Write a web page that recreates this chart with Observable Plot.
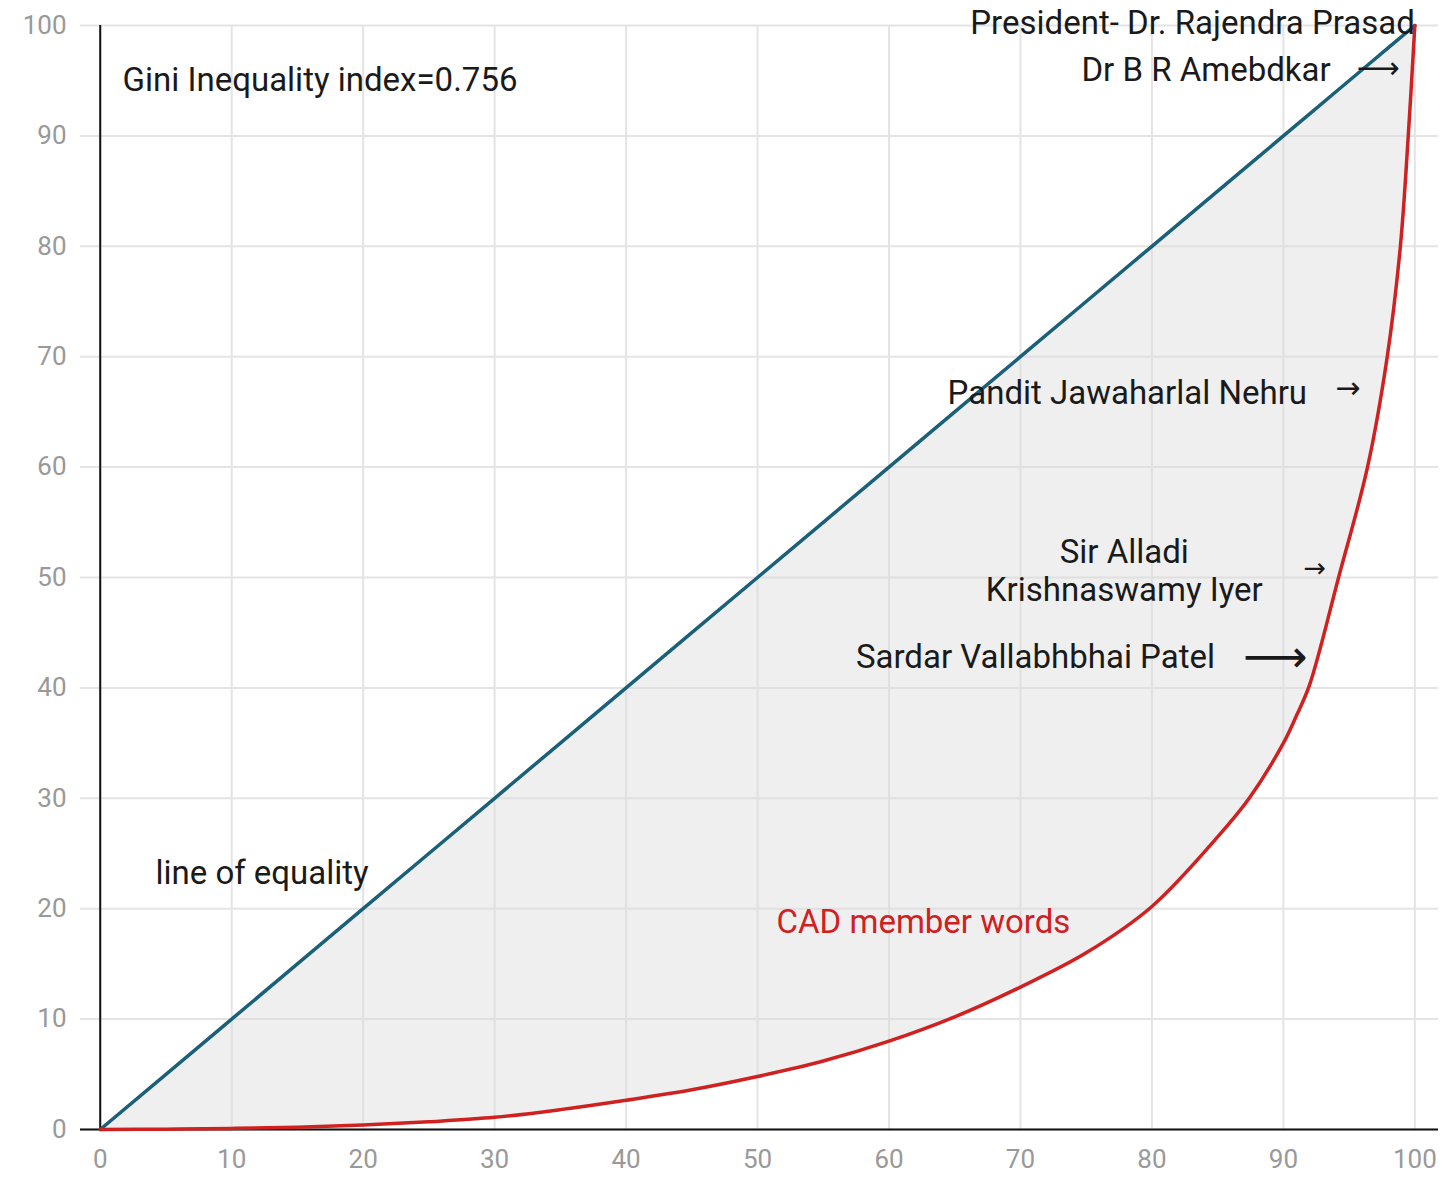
<!DOCTYPE html>
<html>
<head>
<meta charset="utf-8">
<script src="https://cdn.jsdelivr.net/npm/d3@7"></script>
<script src="https://cdn.jsdelivr.net/npm/@observablehq/plot@0.6"></script>
<style>
  html, body { margin: 0; padding: 0; background: #fff; }
  #chart svg { display: block; }
</style>
</head>
<body>
<div id="chart"></div>
<script>
// Lorenz curve of CAD member words
const pop   = [0, 5, 10, 15, 20, 25, 30, 35, 40, 45, 50, 55, 60, 65, 70, 75, 80, 85, 87.4, 90, 91, 92.0, 94.2, 96.4, 97.9, 98.9, 99.5, 100];
const share = [0, 0.03, 0.1, 0.2, 0.4, 0.7, 1.1, 1.8, 2.65, 3.6, 4.8, 6.2, 8.0, 10.2, 12.9, 16.0, 20.2, 26.5, 30, 35, 37.5, 40.3, 50, 60, 70, 80, 90, 100];

const xTicks = [0, 10, 20, 30, 40, 50, 60, 70, 80, 90, 100];
const yTicks = [0, 10, 20, 30, 40, 50, 60, 70, 80, 90, 100];

// annotations
const startLabels = ["Gini Inequality index=0.756", "line of equality"];
const startX = [1.7, 4.2];
const startY = [95.0, 23.2];

const endLabels = ["President- Dr. Rajendra Prasad", "Dr B R Amebdkar", "Pandit Jawaharlal Nehru", "Sardar Vallabhbhai Patel"];
const endX = [100, 93.6, 91.8, 84.8];
const endY = [100.2, 95.9, 66.7, 42.75];

const midLabels = ["Sir Alladi\nKrishnaswamy Iyer"];
const midX = [77.9];
const midY = [50.7];

const arrowGlyphs = ["⟶", "→", "→", "⟶"];
const arrowX = [97.2, 94.9, 92.4, 89.4];
const arrowY = [96.1, 67.1, 50.8, 42.7];
const arrowSize = [30, 30, 27, 45];

const seriesLabel = ["CAD member words"];
const seriesX = [51.45];
const seriesY = [18.8];

const data = pop.map((p, i) => ({x: p, y: share[i]}));
const zip = (t, xs, ys) => t.map((s, i) => ({text: s, x: xs[i], y: ys[i]}));

const font = "Roboto, 'Noto Sans', sans-serif";
const blue = "#1b6079";
const red = "#d0201f";

const chart = Plot.plot({
  width: 1445,
  height: 1179,
  marginLeft: 80,
  marginRight: 7,
  marginTop: 25,
  marginBottom: 50,
  style: {fontFamily: font, background: "#fff"},
  x: {domain: [-1.5, 101.8], label: null},
  y: {domain: [0, 100], label: null},
  marks: [
    Plot.gridX({ticks: xTicks, stroke: "#e4e4e4", strokeOpacity: 1, strokeWidth: 2}),
    Plot.gridY({ticks: yTicks, stroke: "#e4e4e4", strokeOpacity: 1, strokeWidth: 2}),
    Plot.areaY(data, {x: "x", y1: "x", y2: "y", fill: "#dcdcdc", fillOpacity: 0.45, curve: "catmull-rom"}),
    Plot.ruleX([0], {stroke: "#111", strokeWidth: 2}),
    Plot.ruleY([0], {stroke: "#111", strokeWidth: 2}),
    Plot.lineY(data, {x: "x", y: "x", stroke: blue, strokeWidth: 3.5}),
    Plot.lineY(data, {x: "x", y: "y", stroke: red, strokeWidth: 3.5, curve: "catmull-rom"}),
    Plot.axisX({ticks: xTicks, tickSize: 0, tickPadding: 20, fontSize: 26, fill: "#999", label: null}),
    Plot.axisY({ticks: yTicks, tickSize: 0, tickPadding: 14, fontSize: 26, fill: "#999", label: null}),
    Plot.text(zip(startLabels, startX, startY), {x: "x", y: "y", text: "text", textAnchor: "start", fontSize: 33, fill: "#1a1a1a"}),
    Plot.text(zip(endLabels, endX, endY), {x: "x", y: "y", text: "text", textAnchor: "end", fontSize: 33, fill: "#1a1a1a"}),
    Plot.text(zip(midLabels, midX, midY), {x: "x", y: "y", text: "text", textAnchor: "middle", fontSize: 33, lineHeight: 1.15, fill: "#1a1a1a"}),
    Plot.text(arrowGlyphs.map((g, i) => ({text: g, x: arrowX[i], y: arrowY[i], s: arrowSize[i]})), {x: "x", y: "y", text: "text", textAnchor: "middle", fontSize: d => d.s, fontFamily: "'DejaVu Sans'", fill: "#1a1a1a"}),
    Plot.text(zip(seriesLabel, seriesX, seriesY), {x: "x", y: "y", text: "text", textAnchor: "start", fontSize: 33, fill: red})
  ]
});
document.getElementById("chart").append(chart);
</script>
</body>
</html>
